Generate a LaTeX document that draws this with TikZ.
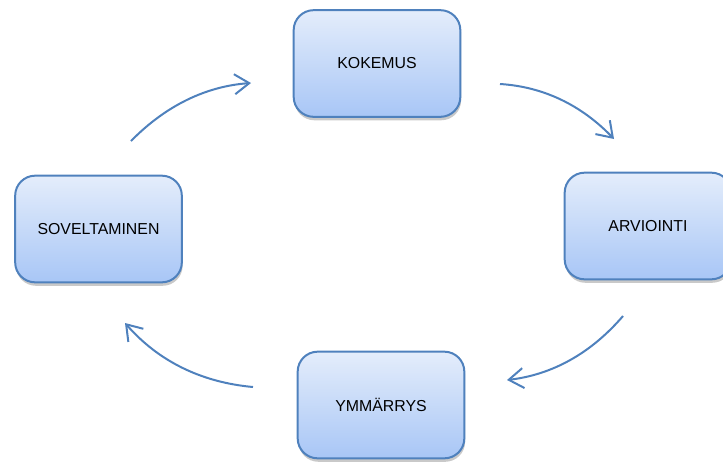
\documentclass[tikz,border=0pt]{standalone}
\usepackage{fontspec}
\setmainfont{Liberation Sans}
\usetikzlibrary{arrows.meta,shadows}

\definecolor{rim}{HTML}{4F81BD}
\definecolor{boxtop}{HTML}{E4EDFB}
\definecolor{boxbot}{HTML}{A8C6F6}

\tikzset{
  phase/.style={draw=rim, line width=1.5pt, rounded corners=15pt,
    top color=boxtop, bottom color=boxbot,
    minimum width=125pt, minimum height=80pt,
    font=\fontsize{11.9}{14}\selectfont,
    drop shadow={shadow xshift=0.6pt, shadow yshift=-2.6pt, opacity=0.3, fill=black!70}},
  cycle/.style={rim, line width=1.5pt, -{Straight Barb[length=11pt, width=15pt, line width=1.5pt]}}
}

\begin{document}
\begin{tikzpicture}[x=0.75pt, y=-0.75pt]
                \useasboundingbox (0,0) rectangle (723,461);

                % Phases of the cycle
                \node[phase] (kok) at (377,63.5) {KOKEMUS};
                \node[phase] (arv) at (648,226) {ARVIOINTI};
                \node[phase] (ymm) at (381,405) {YMMÄRRYS};
                \node[phase] (sov) at (98.5,229) {SOVELTAMINEN};

                % Free ends of the curved arrows
                \coordinate (a1) at (131,141);
                \coordinate (b1) at (251,83);
                \coordinate (a2) at (500,84);
                \coordinate (b2) at (614,139);
                \coordinate (a3) at (623,316);
                \coordinate (b3) at (507,380);
                \coordinate (a4) at (253,387);
                \coordinate (b4) at (125,323);

                % Arrows between the phases
                \draw[cycle] (a1) .. controls (165.7,105.7) and (205.7,86.3) .. (b1);
                \draw[cycle] (a2) .. controls (543.3,86.7) and (581.3,105) .. (b2);
                \draw[cycle] (a3) .. controls (591,353.3) and (552.3,374.7) .. (b3);
                \draw[cycle] (a4) .. controls (201,382.3) and (158.3,361) .. (b4);

            \end{tikzpicture}
\end{document}
